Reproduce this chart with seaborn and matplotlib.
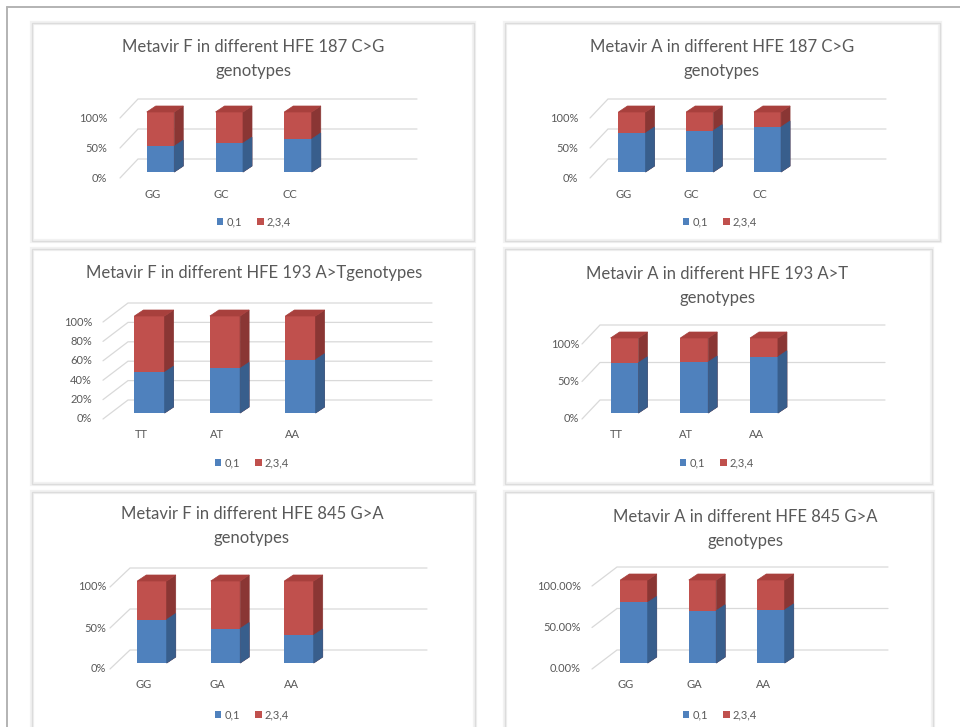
import matplotlib
matplotlib.use("Agg")
import matplotlib.pyplot as plt
from matplotlib.patches import Polygon, Rectangle, Patch
from matplotlib.lines import Line2D
from matplotlib.transforms import offset_copy
import pandas as pd
import seaborn as sns

# ---------------------------------------------------------------- data
titles = [
    "Metavir F in different HFE 187 C>G\ngenotypes",
    "Metavir A in different HFE 187 C>G\ngenotypes",
    "Metavir F in different HFE 193 A>Tgenotypes",
    "Metavir A in different HFE 193 A>T\ngenotypes",
    "Metavir F in different HFE 845 G>A\ngenotypes",
    "Metavir A in different HFE 845 G>A\ngenotypes",
]
genotypes = [
    ["GG", "GC", "CC"],
    ["GG", "GC", "CC"],
    ["TT", "AT", "AA"],
    ["TT", "AT", "AA"],
    ["GG", "GA", "AA"],
    ["GG", "GA", "AA"],
]
# share of patients (%) in stage group "0,1"
stage_01 = [
    [43, 48, 55],
    [65, 69, 75],
    [42, 46, 55],
    [67, 68, 75],
    [53, 42, 34],
    [73, 63, 64],
]
# share of patients (%) in stage group "2,3,4"
stage_234 = [
    [57, 52, 45],
    [35, 31, 25],
    [58, 54, 45],
    [33, 32, 25],
    [47, 58, 66],
    [27, 37, 36],
]
y_ticks = [
    [0, 50, 100],
    [0, 50, 100],
    [0, 20, 40, 60, 80, 100],
    [0, 50, 100],
    [0, 50, 100],
    [0, 50, 100],
]
tick_formats = ["{:.0f}%", "{:.0f}%", "{:.0f}%", "{:.0f}%", "{:.0f}%", "{:.2f}%"]
legend_labels = ["0,1", "2,3,4"]

# ---------------------------------------------------------------- layout (pixels, origin top-left)
W, H = 960, 727
panels = [
    dict(box=(32, 23, 474, 241), c0=160.5, slot=68.75, base=172, top=112,
         wall=(120, 138, 417), tick_x=107, title_xy=(253, 59), legend_xy=(254, 222)),
    dict(box=(505, 23, 940, 241), c0=632, slot=67.75, base=172, top=112,
         wall=(590, 608, 886), tick_x=578, title_xy=(722, 59), legend_xy=(720, 222)),
    dict(box=(32, 249, 474, 484), c0=149.5, slot=75.5, base=413, top=316,
         wall=(103, 128, 432), tick_x=92, title_xy=(254, 273), legend_xy=(252, 463)),
    dict(box=(505, 249, 932, 484), c0=624.5, slot=69.75, base=413, top=338,
         wall=(582, 600, 885), tick_x=579, title_xy=(717, 286), legend_xy=(717, 463)),
    dict(box=(32, 492, 475, 740), c0=152, slot=73.5, base=663, top=581,
         wall=(110, 130, 427), tick_x=106, title_xy=(252, 526), legend_xy=(252, 715)),
    dict(box=(505, 492, 933, 740), c0=634, slot=68.5, base=663, top=580,
         wall=(592, 617, 888), tick_x=581, title_xy=(745, 529), legend_xy=(720, 715)),
]

BLUE, BLUE_SIDE = "#4f81bd", "#385e8c"
RED, RED_SIDE, RED_TOP = "#c0504d", "#8a3634", "#a8403d"
GRID = "#d9d9d9"
TEXT = "#595959"
DEPTH_X, DEPTH_Y = 9, 6          # bar depth in pixels
BACK_UP, FRONT_DOWN = 13, 6      # wall offsets in pixels

sns.set_theme(style="white")
plt.rcParams["font.family"] = ["Lato", "DejaVu Sans"]

fig = plt.figure(figsize=(W / 100, H / 100), dpi=100)
fig.patch.set_facecolor("white")


def fx(x):
    return x / W


def fy(y):
    return 1 - y / H


# outer frame (top and left edges)
fig.add_artist(Line2D([fx(7), fx(W)], [fy(7), fy(7)], color="#b3b3b3", lw=1.4))
fig.add_artist(Line2D([fx(7), fx(7)], [fy(7), fy(H)], color="#b3b3b3", lw=1.4))

for i, p in enumerate(panels):
    x0, y0, x1, y1 = p["box"]
    for lw, col in ((3.0, "#f2f2f2"), (1.0, "#dcdcdc")):
        fig.add_artist(Rectangle((fx(x0), fy(y1)), fx(x1) - fx(x0), fy(y0) - fy(y1),
                                 transform=fig.transFigure, fill=False,
                                 edgecolor=col, lw=lw))

    L = p["c0"] - p["slot"] / 2
    R = L + 4 * p["slot"]
    ax = fig.add_axes([fx(L), fy(p["base"]), (R - L) / W, (p["base"] - p["top"]) / H])

    df = pd.DataFrame({"genotype": genotypes[i],
                       "low": stage_01[i],
                       "high": stage_234[i]})
    df["total"] = df["low"] + df["high"]

    px_x = p["slot"]                        # pixels per x unit
    px_y = (p["base"] - p["top"]) / 100.0   # pixels per y unit
    ddx, ddy = DEPTH_X / px_x, DEPTH_Y / px_y

    def to_x(px):
        return (px - L) / px_x - 0.5

    # stacked bars: full column in red, lower group in blue over it
    sns.barplot(data=df, x="genotype", y="total", color=RED, saturation=1,
                width=0.4, ax=ax, zorder=2, errorbar=None,
                linewidth=0, edgecolor="none")
    n_red = len(ax.patches)
    sns.barplot(data=df, x="genotype", y="low", color=BLUE, saturation=1,
                width=0.4, ax=ax, zorder=4, errorbar=None,
                linewidth=0, edgecolor="none")
    ax.set_xlim(-0.5, 3.5)
    ax.set_ylim(0, 100)
    ax.axis("off")

    # wall grid: diagonal from the front edge, then horizontal along the back wall
    wf, wb, wr = (to_x(v) for v in p["wall"])
    for v in y_ticks[i]:
        yf = v - FRONT_DOWN / px_y
        yb = v + BACK_UP / px_y
        ax.plot([wf, wb, wr], [yf, yb, yb], color=GRID, lw=0.9,
                clip_on=False, zorder=0, solid_joinstyle="miter")
        ax.text(to_x(p["tick_x"]), yf, tick_formats[i].format(v), ha="right",
                va="center", fontsize=8, color=TEXT, clip_on=False)

    # depth faces (side and top) built from each bar's rectangle
    for k, bar in enumerate(ax.patches):
        bx, by = bar.get_x(), bar.get_y()
        bw, bh = bar.get_width(), bar.get_height()
        red = k < n_red
        sc = RED_SIDE if red else BLUE_SIDE
        side = [(bx + bw, by), (bx + bw + ddx, by + ddy),
                (bx + bw + ddx, by + bh + ddy), (bx + bw, by + bh)]
        ax.add_patch(Polygon(side, closed=True, lw=0.5, clip_on=False,
                             facecolor=sc, edgecolor=sc,
                             zorder=3 if red else 5))
        if red:
            topf = [(bx, by + bh), (bx + ddx, by + bh + ddy),
                    (bx + bw + ddx, by + bh + ddy), (bx + bw, by + bh)]
            ax.add_patch(Polygon(topf, closed=True, lw=0.5, clip_on=False,
                                 facecolor=RED_TOP, edgecolor=RED_TOP, zorder=3))

    # category labels
    lab_tr = offset_copy(ax.transData, fig=fig, x=-8, y=-22, units="dots")
    for j, g in enumerate(genotypes[i]):
        ax.text(j, 0, g, transform=lab_tr, ha="center", va="center",
                fontsize=8, color=TEXT)

    tx, ty = p["title_xy"]
    fig.text(fx(tx), fy(ty), titles[i], ha="center", va="center",
             fontsize=12, color=TEXT, linespacing=1.65)

    lx, ly = p["legend_xy"]
    handles = [Patch(facecolor=BLUE, edgecolor="none"),
               Patch(facecolor=RED, edgecolor="none")]
    fig.legend(handles, legend_labels, loc="center",
               bbox_to_anchor=(fx(lx), fy(ly)), ncol=2, frameon=False,
               fontsize=8, labelcolor=TEXT, handlelength=0.55,
               handleheight=0.55, handletextpad=0.3, columnspacing=1.4,
               borderpad=0)

fig.savefig("out.png", dpi=100, facecolor="white")
